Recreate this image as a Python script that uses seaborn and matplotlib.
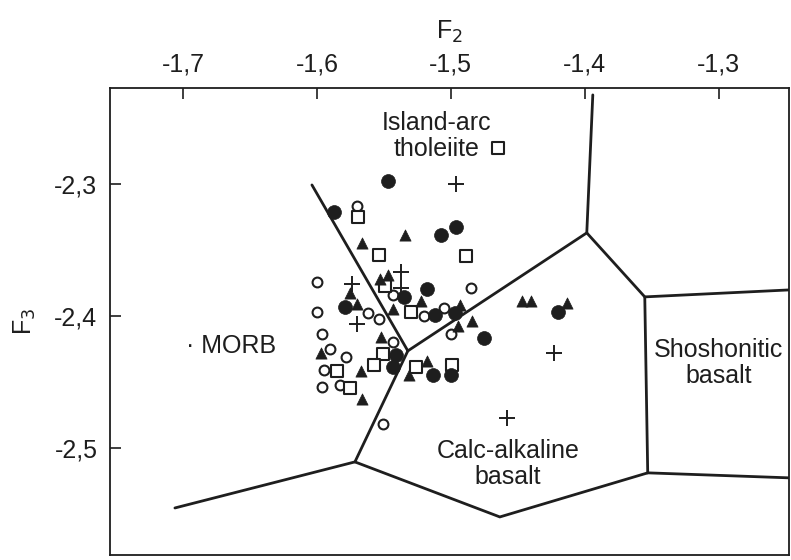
import matplotlib
matplotlib.use("Agg")
import matplotlib.pyplot as plt
import seaborn as sns
import pandas as pd

sns.set_theme(style="white")
plt.rcParams['font.family'] = ['Liberation Sans', 'DejaVu Sans']

# ---- data (F2, F3) ----
filled_circle_x = [-1.547, -1.587, -1.507, -1.496, -1.579, -1.518, -1.535, -1.512,
                   -1.497, -1.475, -1.541, -1.543, -1.513, -1.500, -1.420]
filled_circle_y = [-2.298, -2.321, -2.339, -2.333, -2.393, -2.380, -2.386, -2.399,
                   -2.398, -2.417, -2.430, -2.439, -2.445, -2.445, -2.397]

open_circle_x = [-1.570, -1.600, -1.600, -1.562, -1.554, -1.543, -1.485, -1.520, -1.505,
                 -1.500, -1.596, -1.590, -1.578, -1.543, -1.595, -1.583, -1.596, -1.551]
open_circle_y = [-2.317, -2.374, -2.397, -2.398, -2.402, -2.384, -2.379, -2.400, -2.394,
                 -2.414, -2.414, -2.425, -2.431, -2.420, -2.441, -2.452, -2.454, -2.482]

open_square_x = [-1.465, -1.569, -1.554, -1.489, -1.549, -1.530, -1.551, -1.557,
                 -1.585, -1.575, -1.526, -1.499]
open_square_y = [-2.273, -2.325, -2.354, -2.355, -2.377, -2.397, -2.429, -2.437,
                 -2.442, -2.455, -2.439, -2.437]

triangle_x = [-1.534, -1.566, -1.553, -1.547, -1.575, -1.570, -1.543, -1.522, -1.493, -1.484,
              -1.495, -1.552, -1.597, -1.567, -1.566, -1.531, -1.518, -1.447, -1.440, -1.413]
triangle_y = [-2.339, -2.345, -2.372, -2.369, -2.383, -2.391, -2.395, -2.389, -2.392, -2.404,
              -2.408, -2.416, -2.428, -2.442, -2.463, -2.445, -2.434, -2.389, -2.389, -2.390]

plus_x = [-1.496, -1.574, -1.537, -1.537, -1.570, -1.423, -1.458]
plus_y = [-2.300, -2.376, -2.367, -2.379, -2.406, -2.428, -2.477]

# ---- field boundaries (polylines) ----
boundary_lines = [
    ([-1.6037, -1.5321], [-2.3008, -2.4265]),                      # MORB / IAT
    ([-1.5321, -1.3985, -1.3940], [-2.4265, -2.3371, -2.2326]),    # IAT / CAB, IAT / SHO
    ([-1.3985, -1.3552, -1.2470], [-2.3371, -2.3856, -2.3803]),    # top of SHO
    ([-1.3552, -1.3530, -1.2470], [-2.3856, -2.5189, -2.5227]),    # SHO left & bottom
    ([-1.5321, -1.5716, -1.7060], [-2.4265, -2.5106, -2.5455]),    # MORB / CAB
    ([-1.5716, -1.4634, -1.3530], [-2.5106, -2.5523, -2.5189]),    # CAB bottom
]

field_labels = ["Island-arc\ntholeiite", "· MORB", "Shoshonitic\nbasalt", "Calc-alkaline\nbasalt"]
field_label_x = [-1.5104, -1.6980, -1.3000, -1.4575]
field_label_y = [-2.2636, -2.4225, -2.4356, -2.5120]

x_ticks = [-1.7, -1.6, -1.5, -1.4, -1.3]
x_tick_labels = ["-1,7", "-1,6", "-1,5", "-1,4", "-1,3"]
y_ticks = [-2.3, -2.4, -2.5]
y_tick_labels = ["-2,3", "-2,4", "-2,5"]

ink = "#1e1e1e"

fig = plt.figure(figsize=(7.91, 5.60), dpi=100)
ax = fig.add_axes([0.139, 0.009, 0.858, 0.834])

for xs, ys in boundary_lines:
    ax.plot(xs, ys, color=ink, lw=2.0, solid_joinstyle="miter", zorder=2)

common = dict(ax=ax, legend=False, zorder=3)
sns.scatterplot(x=open_circle_x, y=open_circle_y, marker="o", s=50,
                facecolor="white", edgecolor=ink, linewidth=1.5, **common)
sns.scatterplot(x=open_square_x, y=open_square_y, marker="s", s=70,
                facecolor="white", edgecolor=ink, linewidth=1.5, **common)
sns.scatterplot(x=filled_circle_x, y=filled_circle_y, marker="o", s=100,
                color=ink, edgecolor=ink, linewidth=0.5, **common)
sns.scatterplot(x=triangle_x, y=triangle_y, marker="^", s=65,
                color=ink, edgecolor=ink, linewidth=0.5, **common)
sns.scatterplot(x=plus_x, y=plus_y, marker="+", s=120,
                color=ink, linewidth=1.4, **common)

for t, x, y in zip(field_labels, field_label_x, field_label_y):
    ha = "left" if "MORB" in t else "center"
    ax.text(x, y, t, ha=ha, va="center", fontsize=18, color=ink,
            linespacing=1.1, zorder=4)

ax.set_xlim(-1.7545, -1.2478)
ax.set_ylim(-2.5811, -2.2273)

ax.xaxis.tick_top()
ax.xaxis.set_label_position("top")
ax.set_xticks(x_ticks)
ax.set_xticklabels(x_tick_labels)
ax.set_yticks(y_ticks)
ax.set_yticklabels(y_tick_labels)
ax.tick_params(axis="x", direction="in", length=8, width=1.2, colors=ink,
               labelsize=18, pad=8, top=True, bottom=False)
ax.tick_params(axis="y", direction="in", length=8, width=1.2, colors=ink,
               labelsize=18, pad=9, left=True, right=False)
ax.set_xlabel("F$_2$", fontsize=18, color=ink, labelpad=10)
ax.set_ylabel("F$_3$", fontsize=18, color=ink, labelpad=12)

for sp in ax.spines.values():
    sp.set_visible(True)
    sp.set_color(ink)
    sp.set_linewidth(1.3)

fig.savefig("out.png", dpi=100, facecolor="white")
